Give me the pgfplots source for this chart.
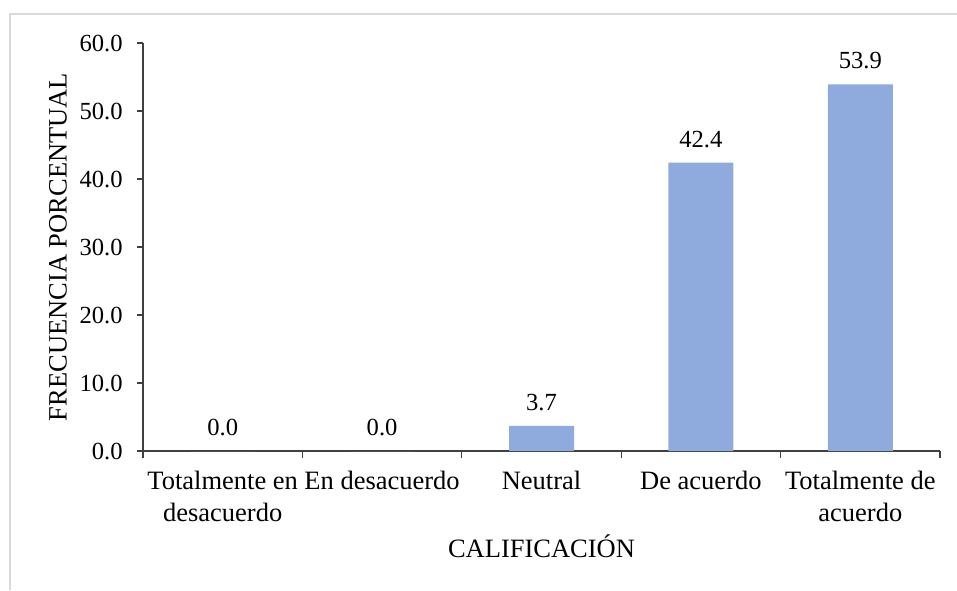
\documentclass[border=0pt]{standalone}
\usepackage{pgfplots}
\pgfplotsset{compat=1.18}
\usepackage{fontspec}
\setmainfont{Liberation Serif}
\definecolor{barblue}{HTML}{8FAADC}
\definecolor{frame}{HTML}{D9D9D9}
\begin{document}
\fontsize{13.25}{16}\selectfont
\begin{tikzpicture}
\path[use as bounding box] (0,0) rectangle (478.5pt,295pt);
\draw[frame, line width=1pt] (4.75pt,0pt) -- (4.75pt,287.75pt) -- (478.5pt,287.75pt);
\begin{axis}[
  at={(71.5pt,69.5pt)}, anchor=south west,
  scale only axis, width=398.5pt, height=204pt,
  ybar, bar width=32.5pt,
  xmin=-0.5, xmax=4.5, ymin=0, ymax=60,
  ytick={0,10,...,60},
  axis lines*=left,
  axis line style={draw=black!75, line width=0.6pt},
  tick align=outside,
  ytick style={draw=black!75, line width=0.6pt},
  major tick length=3pt,
  xtick={0,1,2,3,4},
  xticklabels={Totalmente en\\desacuerdo, En desacuerdo, Neutral, De acuerdo, Totalmente de\\acuerdo},
  major x tick style={draw=none},
  minor xtick={-0.5,0.5,1.5,2.5,3.5,4.5},
  minor x tick style={draw=black!75, line width=0.6pt},
  minor tick length=3.5pt,
  xticklabel style={align=center, anchor=north, yshift=-2.5pt, font=\fontsize{13.25}{16}\selectfont},
  yticklabel style={xshift=-2.6pt, font=\fontsize{12.3}{14}\selectfont},
  /pgf/number format/assume math mode=true,
  /pgf/number format/.cd, fixed, fixed zerofill, precision=1,
  /pgfplots/.cd,
  nodes near coords,
  nodes near coords style={anchor=base, yshift=7.8pt, font=\fontsize{12.3}{14}\selectfont, /pgf/number format/fixed, /pgf/number format/fixed zerofill, /pgf/number format/precision=1},
  ylabel={FRECUENCIA PORCENTUAL},
  ylabel style={at={(axis description cs:-0.1066,0.5)}, anchor=center, rotate=0},
  xlabel={CALIFICACIÓN},
  xlabel style={at={(axis description cs:0.5,-0.262)}, anchor=base},
  clip=false,
]
\addplot[fill=barblue, draw=none] coordinates {(0,0.0) (1,0.0) (2,3.7) (3,42.4) (4,53.9)};
\end{axis}
\end{tikzpicture}
\end{document}
